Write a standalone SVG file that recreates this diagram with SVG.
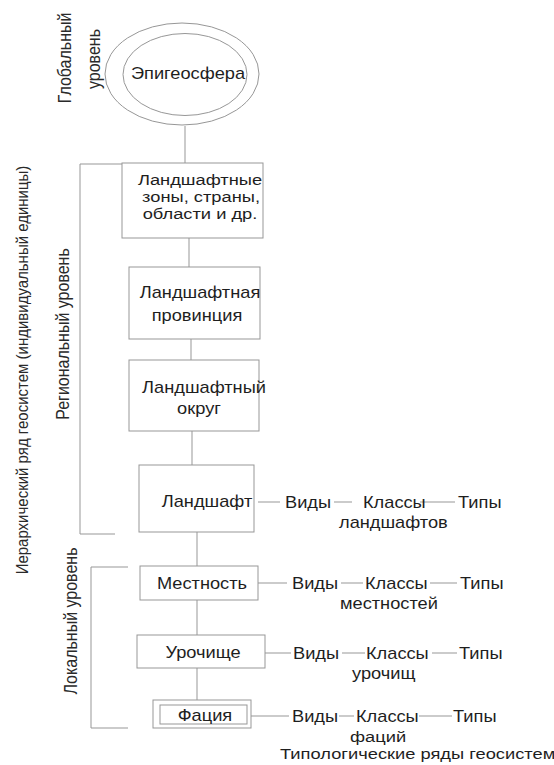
<svg xmlns="http://www.w3.org/2000/svg" width="554" height="765" viewBox="0 0 554 765">
<style>
.bg{fill:#ffffff}
.box{fill:none;stroke:#979797;stroke-width:1}
.ln{fill:none;stroke:#979797;stroke-width:1}
.t{font-family:"Liberation Sans",Arial,sans-serif;font-size:16px;fill:#1e1e1e}
.s{font-size:15px}
.m{text-anchor:middle}
.v{font-family:"Liberation Sans",Arial,sans-serif;font-size:16px;fill:#2a2a2a;text-anchor:middle}
</style>
<rect class="bg" x="0" y="0" width="554" height="765"/>

<g id="connectors">
  <line class="ln" x1="185" y1="126" x2="185" y2="163"/>
  <line class="ln" x1="189" y1="238" x2="189" y2="267"/>
  <line class="ln" x1="191" y1="339" x2="191" y2="360"/>
  <line class="ln" x1="192" y1="431" x2="192" y2="465"/>
  <line class="ln" x1="197" y1="532" x2="197" y2="566"/>
  <line class="ln" x1="197" y1="600" x2="197" y2="635"/>
  <line class="ln" x1="197" y1="668" x2="197" y2="700"/>
  <path class="ln" d="M122,164 H80 V534 H115"/>
  <path class="ln" d="M128,567 H91 V728 H128"/>
  <line class="ln" x1="258" y1="502" x2="280" y2="502"/>
  <line class="ln" x1="334" y1="502" x2="352" y2="502"/>
  <line class="ln" x1="420" y1="502" x2="455" y2="502"/>
  <line class="ln" x1="258" y1="583" x2="287" y2="583"/>
  <line class="ln" x1="341" y1="583" x2="363" y2="583"/>
  <line class="ln" x1="430" y1="583" x2="457" y2="583"/>
  <line class="ln" x1="265" y1="653" x2="291" y2="653"/>
  <line class="ln" x1="342" y1="653" x2="365" y2="653"/>
  <line class="ln" x1="432" y1="653" x2="457" y2="653"/>
  <line class="ln" x1="251" y1="716" x2="289" y2="716"/>
  <line class="ln" x1="339" y1="716" x2="354" y2="716"/>
  <line class="ln" x1="419" y1="716" x2="452" y2="716"/>
</g>

<g id="level-global">
  <text class="v" transform="translate(70.5,58) scale(1.14,1) rotate(-90)">Глобальный</text>
  <text class="v" transform="translate(100,59) scale(1.14,1) rotate(-90)">уровень</text>
</g>
<g id="level-hierarchy">
  <text class="v" style="font-size:15px" transform="translate(28,370) scale(1.14,1) rotate(-90)">Иерархический ряд геосистем (индивидуальный единицы)</text>
</g>
<g id="level-regional">
  <text class="v" transform="translate(68.5,334) scale(1.14,1) rotate(-90)">Региональный уровень</text>
</g>
<g id="level-local">
  <text class="v" transform="translate(76.5,621) scale(1.14,1) rotate(-90)">Локальный уровень</text>
</g>

<g id="epigeosphere">
  <ellipse class="box" cx="182" cy="74" rx="77" ry="51"/>
  <ellipse class="box" cx="185" cy="74.5" rx="62" ry="41"/>
  <text class="t m" transform="translate(188,79) scale(1.14,1)">Эпигеосфера</text>
</g>

<g id="zones">
  <rect class="box" x="122" y="163" width="141" height="75"/>
  <text class="t s m" transform="translate(200,185) scale(1.22,1)">Ландшафтные</text>
  <text class="t s m" transform="translate(201,202) scale(1.22,1)">зоны, страны,</text>
  <text class="t s m" transform="translate(200,219) scale(1.22,1)">области и др.</text>
</g>

<g id="province">
  <rect class="box" x="129" y="267" width="131" height="72"/>
  <text class="t m" transform="translate(200,298) scale(1.14,1)">Ландшафтная</text>
  <text class="t m" transform="translate(197,321) scale(1.14,1)">провинция</text>
</g>

<g id="okrug">
  <rect class="box" x="129" y="360" width="130" height="71"/>
  <text class="t m" transform="translate(204,393) scale(1.14,1)">Ландшафтный</text>
  <text class="t m" transform="translate(199,414) scale(1.14,1)">округ</text>
</g>

<g id="landscape">
  <rect class="box" x="139" y="465" width="115" height="67"/>
  <text class="t m" transform="translate(207,507) scale(1.14,1)">Ландшафт</text>
</g>

<g id="mestnost">
  <rect class="box" x="140" y="566" width="118" height="34"/>
  <text class="t m" transform="translate(202,589) scale(1.14,1)">Местность</text>
</g>

<g id="urochishche">
  <rect class="box" x="137" y="635" width="128" height="33"/>
  <text class="t m" transform="translate(203,658) scale(1.14,1)">Урочище</text>
</g>

<g id="facia">
  <rect class="box" x="153" y="700" width="98" height="28"/>
  <rect class="box" x="160" y="705" width="87" height="19"/>
  <text class="t m" transform="translate(205,721) scale(1.14,1)">Фация</text>
</g>

<g id="row-landscapes">
  <text class="t" transform="translate(285,508) scale(1.14,1)">Виды</text>
  <text class="t" transform="translate(363,508) scale(1.14,1)">Классы</text>
  <text class="t" transform="translate(458,508) scale(1.14,1)">Типы</text>
  <text class="t" transform="translate(339,528) scale(1.14,1)">ландшафтов</text>
</g>

<g id="row-mestnosti">
  <text class="t" transform="translate(292,589) scale(1.14,1)">Виды</text>
  <text class="t" transform="translate(365,589) scale(1.14,1)">Классы</text>
  <text class="t" transform="translate(460,589) scale(1.14,1)">Типы</text>
  <text class="t" transform="translate(340,609) scale(1.14,1)">местностей</text>
</g>

<g id="row-urochishcha">
  <text class="t" transform="translate(293,659) scale(1.14,1)">Виды</text>
  <text class="t" transform="translate(366,659) scale(1.14,1)">Классы</text>
  <text class="t" transform="translate(459,659) scale(1.14,1)">Типы</text>
  <text class="t" transform="translate(352,679) scale(1.14,1)">урочищ</text>
</g>

<g id="row-facii">
  <text class="t" transform="translate(292,722) scale(1.14,1)">Виды</text>
  <text class="t" transform="translate(356,722) scale(1.14,1)">Классы</text>
  <text class="t" transform="translate(453,722) scale(1.14,1)">Типы</text>
  <text class="t s" transform="translate(350,742) scale(1.22,1)">фаций</text>
</g>

<g id="typology-caption">
  <text class="t s" transform="translate(280,759) scale(1.22,1)">Типологические ряды геосистем</text>
</g>
</svg>
